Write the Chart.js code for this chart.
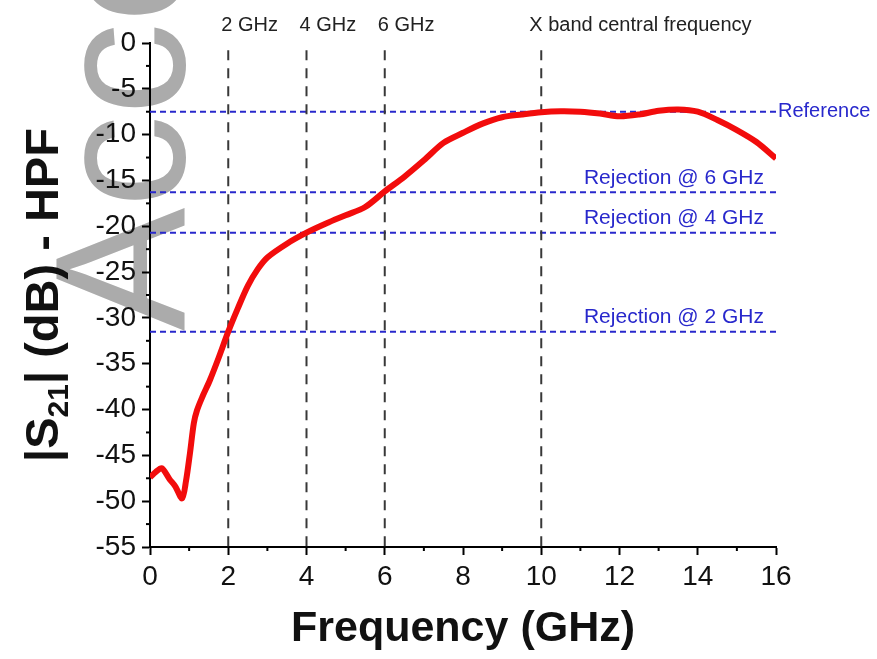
<!DOCTYPE html>
<html>
<head>
<meta charset="utf-8">
<script src="https://cdn.jsdelivr.net/npm/chart.js@4"></script>
<style>
  html, body { margin: 0; padding: 0; background: #fff; }
  #wrap { width: 877px; height: 659px; }
</style>
</head>
<body>
<div id="wrap"><canvas id="hpfChart" width="877" height="659"></canvas></div>
<script>
// measured |S21| of the high-pass filter
const freqGHz = [0, 0.15, 0.3, 0.5, 0.65, 0.82, 0.92, 1.02, 1.12, 1.2, 1.35, 1.53, 1.75, 2.0, 2.25, 2.5, 2.75, 3.0, 3.5, 4.0,
  4.5, 5.0, 5.5, 6.0, 6.5, 7.0, 7.5, 8.0, 8.5, 9.0, 9.5, 10, 10.5, 11, 11.5, 12, 12.5, 13, 13.5, 14, 14.5, 15, 15.5, 16];
const s21dB = [-47.4, -46.8, -46.4, -47.6, -48.4, -49.7, -47.8, -44.8, -41.5, -40.1, -38.5, -36.8, -34.4, -31.5, -28.9, -26.5, -24.7, -23.4, -21.9, -20.7,
  -19.7, -18.8, -17.9, -16.2, -14.6, -12.8, -10.9, -9.8, -8.8, -8.1, -7.8, -7.55, -7.45, -7.5, -7.7, -8.0, -7.8, -7.4, -7.25, -7.5, -8.4, -9.5, -10.8, -12.6];

// vertical markers
const markerFreqs = [2, 4, 6, 10];
const markerLabels = ['2 GHz', '4 GHz', '6 GHz', 'X band central frequency'];
const markerTop = -0.8;

// horizontal levels
const levelValues = [-7.5, -16.3, -20.7, -31.5];
const levelLabels = ['Reference', 'Rejection @ 6 GHz', 'Rejection @ 4 GHz', 'Rejection @ 2 GHz'];

const xTickValues = [0, 2, 4, 6, 8, 10, 12, 14, 16];
const yTickValues = [0, -5, -10, -15, -20, -25, -30, -35, -40, -45, -50, -55];

const FONT = '"Liberation Sans", Arial, sans-serif';
const levelBlue = '#2828cc';

const datasets = [{
  data: freqGHz.map((f, i) => ({ x: f, y: s21dB[i] })),
  borderColor: '#f20c0c',
  borderWidth: 6,
  pointRadius: 0,
  tension: 0.3
}];
markerFreqs.forEach(f => datasets.push({
  data: [{ x: f, y: markerTop }, { x: f, y: -55 }],
  borderColor: '#383838',
  borderWidth: 2,
  borderDash: [10, 8],
  pointRadius: 0
}));
levelValues.forEach(v => datasets.push({
  data: [{ x: 0, y: v }, { x: 16, y: v }],
  borderColor: levelBlue,
  borderWidth: 2,
  borderDash: [6, 4],
  pointRadius: 0
}));

// faint watermark behind everything
const watermark = {
  id: 'watermark',
  beforeDraw(chart) {
    const ctx = chart.ctx;
    ctx.save();
    ctx.translate(184, 331);
    ctx.rotate(-Math.PI / 2);
    ctx.fillStyle = '#ababab';
    ctx.font = '185px ' + FONT;
    ctx.textAlign = 'left';
    ctx.textBaseline = 'alphabetic';
    ctx.fillText('Accepted', 0, 0);
    ctx.restore();
  }
};

// minor ticks, marker and level labels, y title with subscript
const annotations = {
  id: 'annotations',
  afterDraw(chart) {
    const ctx = chart.ctx;
    const xs = chart.scales.x, ys = chart.scales.y;
    ctx.save();
    ctx.strokeStyle = '#000';
    ctx.lineWidth = 2;
    for (let v = 1; v < 16; v += 2) {
      const px = xs.getPixelForValue(v);
      ctx.beginPath(); ctx.moveTo(px, ys.bottom); ctx.lineTo(px, ys.bottom + 4); ctx.stroke();
    }
    for (let v = -2.5; v > -55; v -= 5) {
      const py = ys.getPixelForValue(v);
      ctx.beginPath(); ctx.moveTo(xs.left, py); ctx.lineTo(xs.left - 4, py); ctx.stroke();
    }

    ctx.fillStyle = '#222';
    ctx.font = '20px ' + FONT;
    ctx.textAlign = 'left';
    ctx.textBaseline = 'middle';
    markerFreqs.forEach((f, i) => {
      ctx.fillText(markerLabels[i], xs.getPixelForValue(f) - (i === 3 ? 12 : 7), 25);
    });

    ctx.fillStyle = levelBlue;
    levelValues.forEach((v, i) => {
      const py = ys.getPixelForValue(v);
      if (i === 0) {
        ctx.font = '20px ' + FONT;
        ctx.textAlign = 'left';
        ctx.fillText(levelLabels[i], xs.right + 2, py);
      } else {
        ctx.font = '21px ' + FONT;
        ctx.textAlign = 'right';
        ctx.fillText(levelLabels[i], xs.right - 12, py - 14);
      }
    });

    // |S21| (dB) - HPF
    ctx.translate(42, 295);
    ctx.rotate(-Math.PI / 2);
    ctx.fillStyle = '#111';
    ctx.textAlign = 'left';
    ctx.textBaseline = 'alphabetic';
    const big = 'bold 47px ' + FONT, small = 'bold 30px ' + FONT;
    const parts = [['|S', big, 0], ['21', small, 10], ['| (dB) - HPF', big, 0]];
    let total = 0;
    parts.forEach(p => { ctx.font = p[1]; total += ctx.measureText(p[0]).width; });
    let x = -total / 2;
    parts.forEach(p => {
      ctx.font = p[1];
      ctx.fillText(p[0], x, 16 + p[2]);
      x += ctx.measureText(p[0]).width;
    });
    ctx.restore();
  }
};

new Chart(document.getElementById('hpfChart'), {
  type: 'line',
  data: { datasets: datasets },
  options: {
    responsive: false,
    animation: false,
    layout: { padding: { top: 43, right: 101, left: 0, bottom: 0 } },
    plugins: { legend: { display: false }, tooltip: { enabled: false } },
    scales: {
      x: {
        type: 'linear',
        min: 0, max: 16,
        afterBuildTicks: s => { s.ticks = xTickValues.map(v => ({ value: v })); },
        afterFit: s => { s.height = 112; },
        ticks: { color: '#111', font: { family: FONT, size: 28 }, padding: 5, maxRotation: 0 },
        grid: { drawOnChartArea: false, tickLength: 8, tickColor: '#000', tickWidth: 2 },
        border: { color: '#000', width: 2 },
        title: { display: true, text: 'Frequency (GHz)', color: '#111', font: { family: FONT, size: 43, weight: 'bold' }, padding: { top: 10 } }
      },
      y: {
        min: -55, max: 0,
        afterBuildTicks: s => { s.ticks = yTickValues.map(v => ({ value: v })); },
        afterFit: s => { s.width = 150; },
        ticks: { color: '#111', font: { family: FONT, size: 28 }, padding: 6 },
        grid: { drawOnChartArea: false, tickLength: 8, tickColor: '#000', tickWidth: 2 },
        border: { color: '#000', width: 2 }
      }
    }
  },
  plugins: [watermark, annotations]
});
</script>
</body>
</html>
